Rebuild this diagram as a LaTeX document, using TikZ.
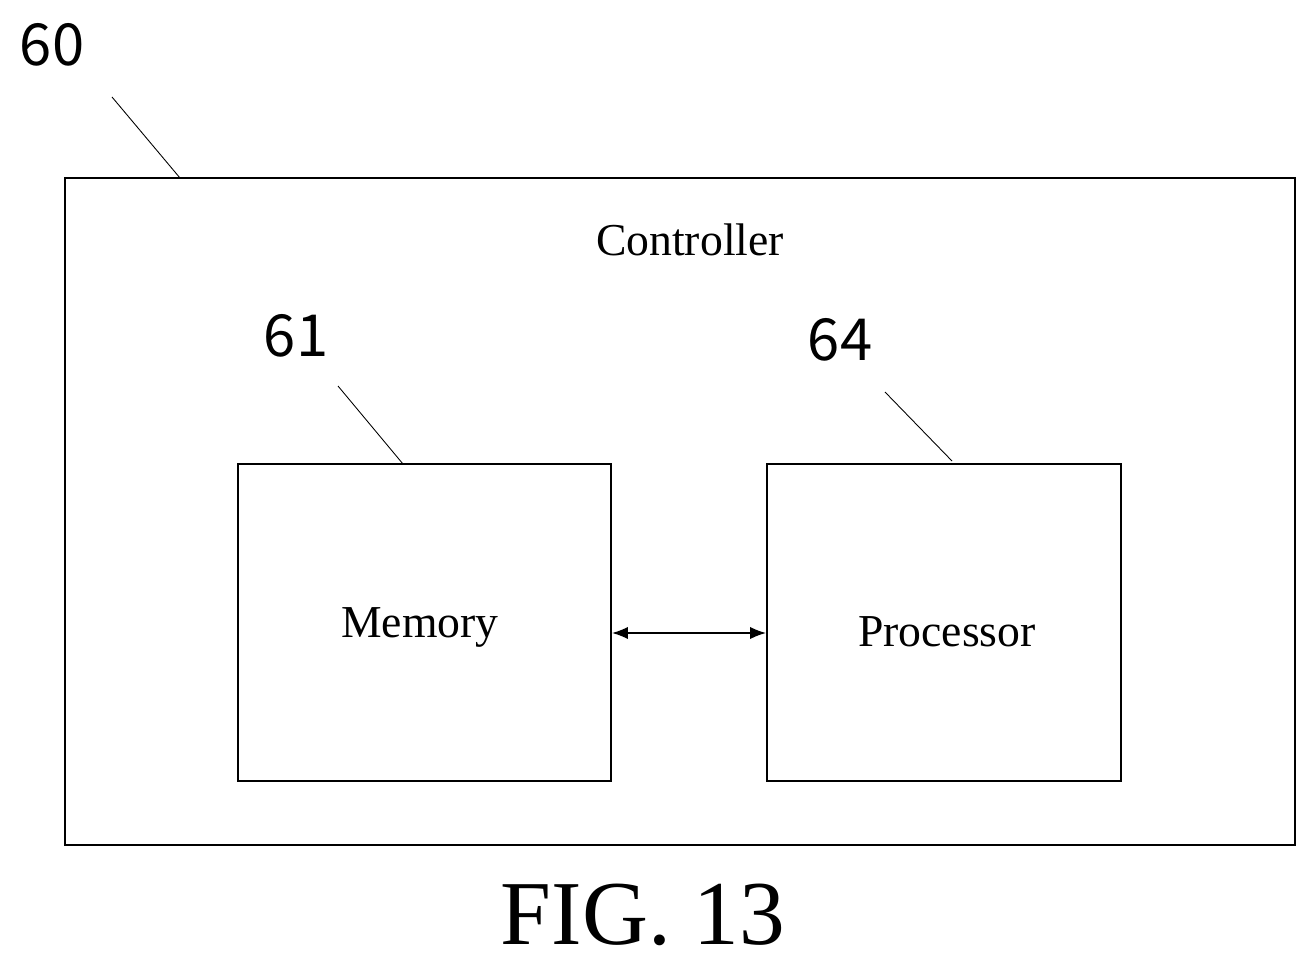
\documentclass[tikz,border=0pt]{standalone}
\usepackage{fontspec}
\setmainfont{Liberation Serif}
\newfontfamily\numfont{Noto Sans CJK SC}
\usetikzlibrary{arrows.meta,positioning}
\begin{document}
\begin{tikzpicture}[>=latex,x=0.02cm,y=-0.02cm]
%===styles===
\tikzset{box/.style={draw,line width=1.2pt,inner sep=0pt},
 num/.style={font=\numfont\fontsize{33}{33}\selectfont},
 txt/.style={font=\fontsize{26}{26}\selectfont},
 lead/.style={line width=0.5pt}}
\useasboundingbox (0,0) rectangle (1316,969);
%===boxes===
\draw[box] (65,178) rectangle (1295,845);
\node[box,minimum width=373*0.02cm,minimum height=317*0.02cm] (mem) at (424.5,622.5) {};
\node[box,minimum width=354*0.02cm,minimum height=317*0.02cm] (proc) at (944,622.5) {};
%===texts===
\node[txt] (ctrl) at (690,240) {Controller};
\node[txt] at (420,627) {Memory};
\node[txt] at (947,632) {Processor};
\node[font=\fontsize{52}{52}\selectfont] (fig) at (643,915) {FIG. 13};
%===reference numbers===
\node[num] (n60) at (52,45) {60};
\node[num] (n61) at (296,336) {61};
\node[num] (n64) at (840,340) {64};
\coordinate (t60) at (180,178);
\coordinate (t61) at (403,464);
\coordinate (t64) at (952,461);
\draw[lead] (112,97) -- (t60);
\draw[lead] (338,386) -- (t61);
\draw[lead] (885,392) -- (t64);
%===link===
\draw[{Latex[length=9pt,width=7pt]}-{Latex[length=9pt,width=7pt]},line width=0.8pt] (mem.east |- 0,633) -- (proc.west |- 0,633);
\end{tikzpicture}
\end{document}
